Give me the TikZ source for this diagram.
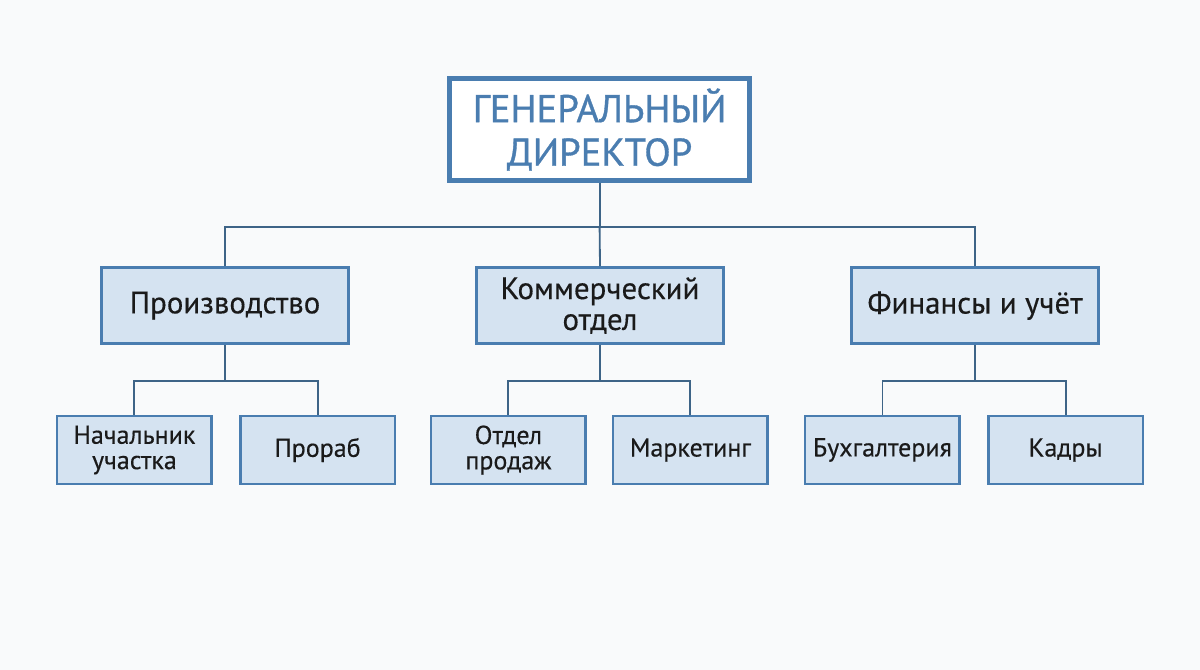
\documentclass[tikz,border=0pt]{standalone}
\usepackage{fontspec}
\setmainfont{PT Sans}
\newfontfamily\medfont{PT Sans}[FakeBold=0.9]
\newfontfamily\lblfont{PT Sans}[FakeBold=0.35]
\usetikzlibrary{positioning}
\definecolor{boxblue}{HTML}{4A7DB0}
\definecolor{boxfill}{HTML}{D5E3F1}
\definecolor{linkblue}{HTML}{3E6487}
\definecolor{ink}{HTML}{1A1A1A}
\tikzset{
  chief/.style={draw=boxblue,line width=3.5pt,fill=white,minimum width=7.5cm,minimum height=2.55cm,
    text=boxblue,font=\medfont\fontsize{27.5}{31}\selectfont,align=center,inner sep=0pt},
  dept/.style={draw=boxblue,line width=2.1pt,fill=boxfill,minimum width=6.175cm,minimum height=1.9cm,
    text=ink,font=\lblfont\fontsize{22}{22}\selectfont,align=center,inner sep=0pt},
  unit/.style={draw=boxblue,line width=1.8pt,fill=boxfill,minimum width=3.86cm,minimum height=1.69cm,
    text=ink,font=\lblfont\fontsize{18.5}{18}\selectfont,align=center,inner sep=0pt},
  link/.style={draw=linkblue,line width=1.3pt}
}

\begin{document}
\begin{tikzpicture}
  \fill[fill={rgb,255:red,249;green,250;blue,251}] (0,0) rectangle (30,-16.75);
  \useasboundingbox (0,0) rectangle (30,-16.75);

  % top
  \node[chief] (gd) at (14.99,-3.24) {ГЕНЕРАЛЬНЫЙ\\ДИРЕКТОР};

  % departments
  \node[dept] (prod) at (5.625,-7.64) {Производство};
  \node[dept] (kom) at (15,-7.64) {Коммерческий\\отдел};
  \node[dept] (fin) at (24.375,-7.64) {Финансы и учёт};

  % units
  \node[unit] (nach) at (3.36,-11.25) {Начальник\\участка};
  \node[unit] (prorab) at (7.94,-11.25) {Прораб};
  \node[unit] (prodazh) at (12.71,-11.25) {Отдел\\продаж};
  \node[unit] (mark) at (17.26,-11.25) {Маркетинг};
  \node[unit] (buh) at (22.06,-11.25) {Бухгалтерия};
  \node[unit] (kadry) at (26.64,-11.25) {Кадры};

  % links
  \draw[link] (gd.south) -- ++(0,-1.1) coordinate (bus);
  \draw[link] (prod.north) |- (bus) -| (fin.north);
  \draw[link] (bus) -- (kom.north);

  \foreach \up/\l/\r in {prod/nach/prorab,kom/prodazh/mark,fin/buh/kadry}{
    \draw[link] (\up.south) -- ++(0,-0.9) coordinate (\up-bus);
    \draw[link] (\l.north) |- (\up-bus) -| (\r.north);
  }
\end{tikzpicture}
\end{document}
